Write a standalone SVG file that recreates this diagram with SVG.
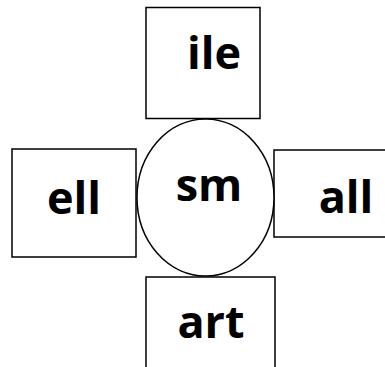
<svg xmlns="http://www.w3.org/2000/svg" width="385" height="367" viewBox="0 0 385 367">
<style>
.b{fill:#fff;stroke:#000;stroke-width:1.5}
.t{font-family:"Open Sans","Liberation Sans",sans-serif;font-weight:bold;font-size:45px;fill:#000;text-anchor:middle}
</style>
<rect width="385" height="367" fill="#fff"/>
<g id="connectors"></g>
<g id="node-ile"><rect class="b" x="146" y="7.5" width="114" height="111"/><text class="t" x="214" y="69">ile</text></g>
<g id="node-ell"><rect class="b" x="12" y="149" width="124" height="108"/><text class="t" x="74" y="214">ell</text></g>
<g id="node-all"><rect class="b" x="274" y="150" width="120" height="87"/><text class="t" x="346" y="213">all</text></g>
<g id="node-art"><rect class="b" x="146" y="277" width="129" height="100"/><text class="t" x="211" y="338">art</text></g>
<g id="node-sm"><ellipse class="b" cx="205.5" cy="197.5" rx="68.5" ry="78.5"/><text class="t" x="209" y="201">sm</text></g>
</svg>
